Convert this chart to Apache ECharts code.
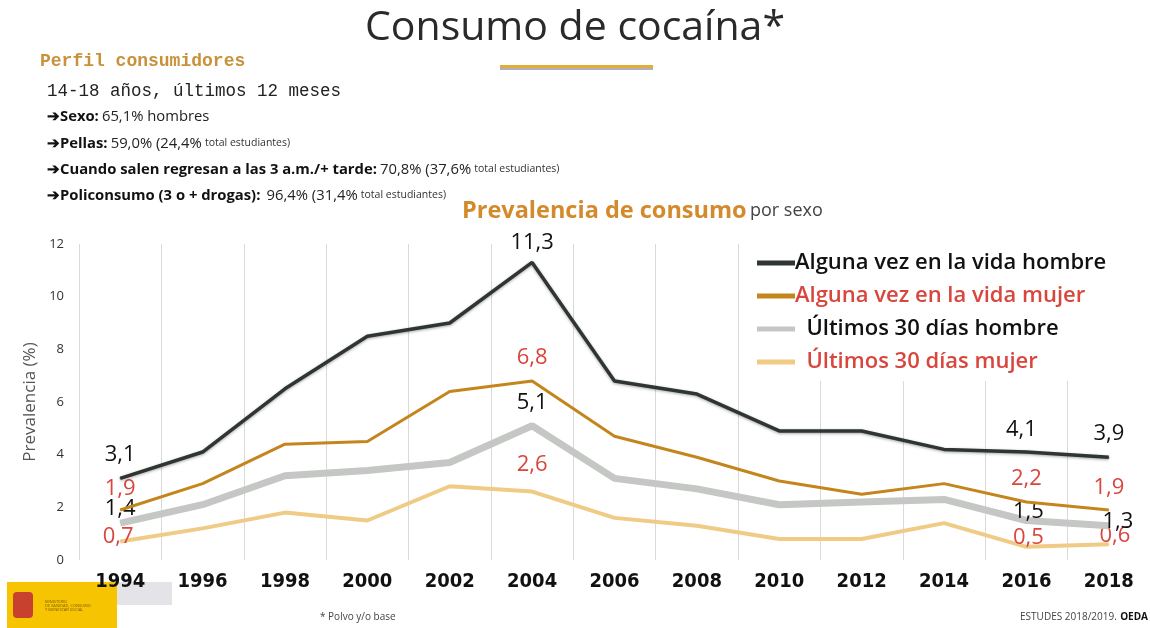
<!DOCTYPE html>
<html>
<head>
<meta charset="utf-8">
<script src="https://cdn.jsdelivr.net/npm/echarts@6/dist/echarts.min.js"></script>
<style>
html,body{margin:0;padding:0;background:#fff;}
#chart{width:1150px;height:628px;}
</style>
</head>
<body>
<div id="chart"></div>
<script>
// ---- Data ----
const years = ['1994','1996','1998','2000','2002','2004','2006','2008','2010','2012','2014','2016','2018'];
const seriesNames = ['Alguna vez en la vida hombre','Alguna vez en la vida mujer','Últimos 30 días hombre','Últimos 30 días mujer'];
const algunaHombre  = [3.1, 4.1, 6.5, 8.5, 9.0, 11.3, 6.8, 6.3, 4.9, 4.9, 4.2, 4.1, 3.9];
const algunaMujer   = [1.9, 2.9, 4.4, 4.5, 6.4, 6.8, 4.7, 3.9, 3.0, 2.5, 2.9, 2.2, 1.9];
const ultimosHombre = [1.4, 2.1, 3.2, 3.4, 3.7, 5.1, 3.1, 2.7, 2.1, 2.2, 2.3, 1.5, 1.3];
const ultimosMujer  = [0.7, 1.2, 1.8, 1.5, 2.8, 2.6, 1.6, 1.3, 0.8, 0.8, 1.4, 0.5, 0.6];
const labelYears = ['1994','2004','2016','2018'];
const yTicks = [0, 2, 4, 6, 8, 10, 12];

// ---- Styling ----
const SANS = '"Open Sans", "Noto Sans", sans-serif';
const RED = '#d8463d';
const labelOffsets = [
  {'1994':[0,-13],'2004':[0,-9],'2016':[-5,-12],'2018':[0,-13]},
  {'1994':[0,-11],'2004':[0,-13],'2016':[0,-13],'2018':[0,-12]},
  {'1994':[0,-4],'2004':[0,-12],'2016':[2,2],'2018':[9,6]},
  {'1994':[-2,6],'2004':[0,-16],'2016':[2,1],'2018':[6,2]}
];
const labelColors = ['#111', RED, '#111', RED];
const lineStyles = [
  {color:'#2f3531', width:3.5, shadowColor:'rgba(0,0,0,0.35)', shadowBlur:3, shadowOffsetY:1},
  {color:'#c4851c', width:3},
  {color:'#c4c7c4', width:7},
  {color:'#efcb86', width:4}
];
const values = [algunaHombre, algunaMujer, ultimosHombre, ultimosMujer];

function buildData(vals, si){
  return vals.map((v, i) => {
    const y = years[i];
    if (labelYears.indexOf(y) >= 0) {
      return {value: v, label: {show: true, offset: labelOffsets[si][y]}};
    }
    return v;
  });
}

const zOrder = [4, 3, 2, 1];
const series = seriesNames.map((name, si) => ({
  name: name,
  type: 'line',
  data: buildData(values[si], si),
  symbol: 'circle',
  symbolSize: 1,
  showSymbol: true,
  z: zOrder[si],
  itemStyle: {color: lineStyles[si].color},
  lineStyle: lineStyles[si],
  label: {
    show: false, position: 'top', distance: 0,
    fontFamily: SANS, fontSize: 22, lineHeight: 20, color: labelColors[si],
    formatter: p => String(p.value).replace('.', ',')
  },
  emphasis: {disabled: true},
  animation: false
}));

const chart = echarts.init(document.getElementById('chart'), null, {renderer: 'canvas'});

const bullet = (parts, y) => ({
  type: 'text', left: 47, top: y,
  style: {
    text: parts, fontFamily: SANS,
    rich: {
      b: {fontSize: 14.8, fontWeight: 'bold', fill: '#111', fontFamily: SANS, lineHeight: 18, verticalAlign: 'bottom'},
      n: {fontSize: 14.8, fill: '#222', fontFamily: SANS, lineHeight: 18, verticalAlign: 'bottom'},
      s: {fontSize: 10.5, fill: '#333', fontFamily: SANS, lineHeight: 18, verticalAlign: 'bottom', padding: [0, 0, 2, 0]}
    }
  }
});

chart.setOption({
  backgroundColor: '#fff',
  animation: false,
  grid: {left: 79, right: 0, top: 244, bottom: 68, containLabel: false},
  legend: {
    orient: 'vertical', left: 742, top: 244,
    backgroundColor: '#fff',
    padding: [8, 20, 8, 15],
    itemGap: 11,
    itemWidth: 38, itemHeight: 5, icon: 'rect',
    z: 10,
    formatter: n => n.charAt(0) === 'Ú' ? '  ' + n : n,
    data: seriesNames.map((n, i) => ({
      name: n,
      textStyle: {color: labelColors[i], fontSize: 22, fontWeight: 600, lineHeight: 20, fontFamily: SANS}
    })),
    selectedMode: false,
    textStyle: {fontSize: 22, fontWeight: 600, lineHeight: 20, fontFamily: SANS, padding: [0, 0, 0, -5]}
  },
  xAxis: {
    type: 'category', data: years, boundaryGap: true,
    axisLine: {show: false}, axisTick: {show: false},
    splitLine: {show: true, lineStyle: {color: '#d9d9d9', width: 1}},
    axisLabel: {
      margin: 12, fontSize: 20, fontWeight: 'bold', color: '#111',
      fontFamily: '"Liberation Sans Narrow", "DejaVu Sans Condensed", "Roboto", sans-serif'
    }
  },
  yAxis: {
    type: 'value', min: yTicks[0], max: yTicks[yTicks.length - 1], interval: 2,
    axisLine: {show: false}, axisTick: {show: false}, splitLine: {show: false},
    axisLabel: {margin: 15, fontSize: 13, color: '#333', fontFamily: SANS},
    name: 'Prevalencia (%)', nameLocation: 'middle', nameGap: 40,
    nameTextStyle: {fontSize: 17, color: '#555', fontFamily: SANS}
  },
  series: series,
  graphic: [
    {type: 'text', left: 'center', top: 8,
      style: {text: 'Consumo de cocaína*', fontSize: 41, fontFamily: SANS, fill: '#2a2a2a',
        shadowColor: 'rgba(0,0,0,0.3)', shadowBlur: 3, shadowOffsetX: 1, shadowOffsetY: 2}},
    {type: 'rect', shape: {x: 500, y: 65, width: 153, height: 3}, style: {fill: '#e2ae3a'}},
    {type: 'rect', shape: {x: 500, y: 68, width: 153, height: 2}, style: {fill: '#b3adc2'}},
    {type: 'text', left: 40, top: 52,
      style: {text: 'Perfil consumidores', fontSize: 18, fontWeight: 'bold', fontFamily: '"Liberation Mono", monospace', fill: '#c8913a'}},
    {type: 'text', left: 47, top: 82,
      style: {text: '14-18 años, últimos 12 meses', fontSize: 17.5, fontFamily: '"Liberation Mono", monospace', fill: '#222'}},
    bullet('{b|➔Sexo:} {n|65,1% hombres}', 109),
    bullet('{b|➔Pellas:} {n|59,0% (24,4%} {s|total estudiantes)}', 136),
    bullet('{b|➔Cuando salen regresan a las 3 a.m./+ tarde:} {n|70,8% (37,6%} {s|total estudiantes)}', 162),
    bullet('{b|➔Policonsumo (3 o + drogas):}  {n|96,4% (31,4%} {s|total estudiantes)}', 188),
    {type: 'text', left: 462, top: 199,
      style: {text: '{a|Prevalencia de consumo} {b|por sexo}',
        rich: {
          a: {fontSize: 23.5, fontWeight: 'bold', fill: '#d38a2a', fontFamily: SANS},
          b: {fontSize: 18, fill: '#444', fontFamily: SANS}
        }}},
    // logo
    {type: 'rect', z: -1, shape: {x: 7, y: 582, width: 110, height: 46}, style: {fill: '#f6c400'}},
    {type: 'rect', z: -1, shape: {x: 117, y: 582, width: 55, height: 23}, style: {fill: '#e4e4e8'}},
    {type: 'rect', z: -1, shape: {x: 13, y: 592, width: 20, height: 26, r: 4}, style: {fill: '#c8412f'}},
    {type: 'text', left: 45, top: 600, z: -1,
      style: {text: 'MINISTERIO\nDE SANIDAD, CONSUMO\nY BIENESTAR SOCIAL', fontSize: 4, fill: '#7a5a10', fontFamily: SANS}},
    {type: 'text', left: 320, top: 612,
      style: {text: '* Polvo y/o base', fontSize: 10, fill: '#444', fontFamily: SANS}},
    {type: 'text', right: 2, top: 611,
      style: {text: '{n|ESTUDES 2018/2019.} {b|OEDA}',
        rich: {n: {fontSize: 10, fill: '#444', fontFamily: SANS}, b: {fontSize: 10, fontWeight: 'bold', fill: '#111', fontFamily: SANS}}}}
  ]
});
</script>
</body>
</html>
